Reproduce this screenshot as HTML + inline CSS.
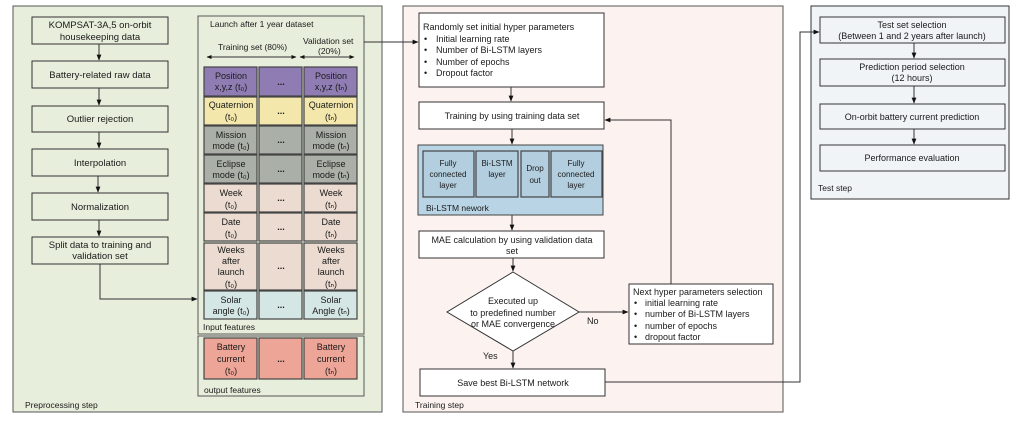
<!DOCTYPE html>
<html><head><meta charset="utf-8"><style>
html,body{margin:0;padding:0;background:#fff;}
svg{display:block;font-family:"Liberation Sans",Arial,sans-serif;}
text{fill:#1a1a1a;}
</style></head><body>
<svg width="1031" height="425" viewBox="0 0 1031 425" xmlns="http://www.w3.org/2000/svg">
<defs>
<marker id="a" viewBox="0 0 10 10" refX="9" refY="5" markerWidth="6" markerHeight="6" orient="auto"><path d="M0,1 L10,5 L0,9 z" fill="#111"/></marker>
<marker id="s" viewBox="0 0 10 10" refX="9" refY="5" markerWidth="5" markerHeight="5" orient="auto-start-reverse"><path d="M0,1 L10,5 L0,9 z" fill="#111"/></marker>
</defs>
<g stroke="#333" stroke-width="1">
<!-- panels -->
<rect x="13" y="6" width="369" height="406" fill="#e8eedc" stroke="#555"/>
<rect x="403" y="6" width="380" height="406" fill="#fcf3f1" stroke="#555"/>
<rect x="811" y="6" width="198" height="193" fill="#f1f4f7" stroke="#333"/>
<!-- left boxes -->
<g fill="#e8eedc">
<rect x="32" y="17" width="136" height="27"/>
<rect x="32" y="61" width="136" height="27"/>
<rect x="32" y="106" width="136" height="26"/>
<rect x="32" y="149" width="136" height="27"/>
<rect x="32" y="193" width="136" height="27"/>
<rect x="32" y="237" width="136" height="27"/>
</g>
<!-- dataset panel -->
<rect x="198" y="16" width="166" height="318" fill="#e8eedc" stroke="#555"/>
<rect x="198" y="336" width="166" height="60" fill="#e8eedc" stroke="#555"/>
<g stroke="#444" stroke-width="1.2">
<g fill="#8e7cb2"><rect x="204" y="67" width="53" height="29"/><rect x="259" y="67" width="43" height="29"/><rect x="304" y="67" width="53" height="29"/></g>
<g fill="#f3e7ab"><rect x="204" y="97" width="53" height="28"/><rect x="259" y="97" width="43" height="28"/><rect x="304" y="97" width="53" height="28"/></g>
<g fill="#a9ae a6" style="fill:#aab0a7"><rect x="204" y="126" width="53" height="28"/><rect x="259" y="126" width="43" height="28"/><rect x="304" y="126" width="53" height="28"/></g>
<g style="fill:#aab0a7"><rect x="204" y="155" width="53" height="28"/><rect x="259" y="155" width="43" height="28"/><rect x="304" y="155" width="53" height="28"/></g>
<g fill="#ebdbd0"><rect x="204" y="184" width="53" height="28"/><rect x="259" y="184" width="43" height="28"/><rect x="304" y="184" width="53" height="28"/>
<rect x="204" y="213" width="53" height="28"/><rect x="259" y="213" width="43" height="28"/><rect x="304" y="213" width="53" height="28"/>
<rect x="204" y="243" width="53" height="47"/><rect x="259" y="243" width="43" height="47"/><rect x="304" y="243" width="53" height="47"/></g>
<g fill="#d5e7e5"><rect x="204" y="291" width="53" height="28"/><rect x="259" y="291" width="43" height="28"/><rect x="304" y="291" width="53" height="28"/></g>
<g fill="#eda597"><rect x="204" y="338" width="53" height="41"/><rect x="259" y="338" width="43" height="41"/><rect x="304" y="338" width="53" height="41"/></g>
</g>
<line x1="207" y1="57" x2="296" y2="57" marker-start="url(#s)" marker-end="url(#s)"/>
<line x1="300" y1="57" x2="354" y2="57" marker-start="url(#s)" marker-end="url(#s)"/>
<!-- left arrows -->
<g marker-end="url(#a)" fill="none">
<line x1="99" y1="44" x2="99" y2="60"/>
<line x1="99" y1="88" x2="99" y2="105"/>
<line x1="99" y1="132" x2="99" y2="148"/>
<line x1="98" y1="176" x2="98" y2="192"/>
<line x1="99" y1="220" x2="99" y2="236"/>
<polyline points="100,264 100,299 197,299"/>
<line x1="364" y1="42" x2="418" y2="42"/>
</g>
<!-- training boxes -->
<g fill="#fff">
<rect x="419" y="13" width="185" height="74"/>
<rect x="419" y="102" width="185" height="27"/>
<rect x="419" y="231" width="185" height="27"/>
<rect x="420" y="369" width="185" height="27"/>
<rect x="629" y="284" width="144" height="60"/>
<polygon points="513,272 579,312 513,351 447,312"/>
</g>
<rect x="418" y="145" width="185" height="70" fill="#b9d4e4" stroke="#444"/>
<g fill="#b3cedf" stroke="#444" stroke-width="1.2">
<rect x="423" y="151" width="51" height="46"/>
<rect x="476" y="151" width="42" height="46"/>
<rect x="521" y="151" width="28" height="46"/>
<rect x="551" y="151" width="51" height="46"/>
</g>
<g marker-end="url(#a)" fill="none">
<line x1="511" y1="87" x2="511" y2="101"/>
<line x1="512" y1="129" x2="512" y2="144"/>
<line x1="512" y1="215" x2="512" y2="230"/>
<line x1="513" y1="258" x2="513" y2="271"/>
<line x1="513" y1="351" x2="513" y2="368"/>
<line x1="579" y1="312" x2="628" y2="312"/>
<polyline points="671,284 671,120 605,120"/>
<polyline points="605,382 800,382 800,32 819,32"/>
<line x1="914" y1="43" x2="914" y2="58"/>
<line x1="914" y1="86" x2="914" y2="103"/>
<line x1="914" y1="129" x2="914" y2="144"/>
</g>
<!-- test boxes -->
<g fill="#f1f4f7">
<rect x="820" y="17" width="185" height="26"/>
<rect x="820" y="59" width="185" height="27"/>
<rect x="820" y="104" width="185" height="25"/>
<rect x="820" y="145" width="185" height="26"/>
</g>
</g>
<g font-size="9.5" text-anchor="middle">
<text x="100" y="28">KOMPSAT-3A,5 on-orbit</text>
<text x="100" y="40">housekeeping data</text>
<text x="100" y="78">Battery-related raw data</text>
<text x="100" y="122">Outlier rejection</text>
<text x="100" y="166">Interpolation</text>
<text x="100" y="210">Normalization</text>
<text x="100" y="248">Split data to training and</text>
<text x="100" y="259">validation set</text>
</g>
<g font-size="8.5">
<text x="210" y="27">Launch after 1 year dataset</text>
<text x="218" y="50">Training set (80%)</text>
<text x="303" y="44">Validation set</text>
<text x="318" y="54">(20%)</text>
<text x="203" y="330">Input features</text>
<text x="204" y="393">output features</text>
<text x="25" y="408">Preprocessing step</text>
</g>
<g font-size="9" text-anchor="middle">
<text x="231" y="79">Position</text><text x="231" y="90">x,y,z (t₀)</text>
<text x="331" y="79">Position</text><text x="331" y="90">x,y,z (tₙ)</text>
<text x="231" y="108">Quaternion</text><text x="231" y="120">(t₀)</text>
<text x="331" y="108">Quaternion</text><text x="331" y="120">(tₙ)</text>
<text x="231" y="138">Mission</text><text x="231" y="149">mode (t₀)</text>
<text x="331" y="138">Mission</text><text x="331" y="149">mode (tₙ)</text>
<text x="231" y="167">Eclipse</text><text x="231" y="178">mode (t₀)</text>
<text x="331" y="167">Eclipse</text><text x="331" y="178">mode (tₙ)</text>
<text x="231" y="196">Week</text><text x="231" y="208">(t₀)</text>
<text x="331" y="196">Week</text><text x="331" y="208">(tₙ)</text>
<text x="231" y="225">Date</text><text x="231" y="237">(t₀)</text>
<text x="331" y="225">Date</text><text x="331" y="237">(tₙ)</text>
<text x="231" y="253">Weeks</text><text x="231" y="264">after</text><text x="231" y="275">launch</text><text x="231" y="287">(t₀)</text>
<text x="331" y="253">Weeks</text><text x="331" y="264">after</text><text x="331" y="275">launch</text><text x="331" y="287">(tₙ)</text>
<text x="231" y="303">Solar</text><text x="231" y="314">angle (t₀)</text>
<text x="331" y="303">Solar</text><text x="331" y="314">Angle (tₙ)</text>
<text x="231" y="350">Battery</text><text x="231" y="362">current</text><text x="231" y="374">(t₀)</text>
<text x="331" y="350">Battery</text><text x="331" y="362">current</text><text x="331" y="374">(tₙ)</text>
<g font-weight="bold"><text x="281" y="85">...</text><text x="281" y="114">...</text><text x="281" y="143">...</text><text x="281" y="172">...</text><text x="281" y="201">...</text><text x="281" y="230">...</text><text x="281" y="269">...</text><text x="281" y="308">...</text><text x="281" y="362">...</text></g>
</g>
<!-- training text -->
<g font-size="9">
<text x="423" y="30">Randomly set initial hyper parameters</text>
<text x="424" y="42">•</text><text x="436" y="42">Initial learning rate</text>
<text x="424" y="53">•</text><text x="436" y="53">Number of Bi-LSTM layers</text>
<text x="424" y="65">•</text><text x="436" y="65">Number of epochs</text>
<text x="424" y="76">•</text><text x="436" y="76">Dropout factor</text>
<text x="633" y="295">Next hyper parameters selection</text>
<text x="634" y="306">•</text><text x="645" y="306">initial learning rate</text>
<text x="634" y="317">•</text><text x="645" y="317">number of Bi-LSTM layers</text>
<text x="634" y="329">•</text><text x="645" y="329">number of epochs</text>
<text x="634" y="340">•</text><text x="645" y="340">dropout factor</text>
<text x="587" y="324">No</text>
<text x="483" y="359">Yes</text>
<text x="415" y="408" font-size="8.5">Training step</text>
<text x="818" y="191" font-size="8.5">Test step</text>
<text x="426" y="211" font-size="8.5">Bi-LSTM nework</text>
</g>
<g font-size="9" text-anchor="middle">
<text x="512" y="119">Training by using training data set</text>
<text x="512" y="243">MAE calculation by using validation data</text>
<text x="512" y="254">set</text>
<text x="513" y="304">Executed up</text>
<text x="513" y="316">to predefined number</text>
<text x="513" y="327">or MAE convergence</text>
<text x="513" y="386">Save best Bi-LSTM network</text>
<text x="912" y="28">Test set selection</text>
<text x="912" y="39">(Between 1 and 2 years after launch)</text>
<text x="912" y="70">Prediction period selection</text>
<text x="912" y="81">(12 hours)</text>
<text x="912" y="120">On-orbit battery current prediction</text>
<text x="912" y="161">Performance evaluation</text>
</g>
<g font-size="8" text-anchor="middle">
<text x="448" y="166">Fully</text><text x="448" y="177">connected</text><text x="448" y="188">layer</text>
<text x="497" y="166">Bi-LSTM</text><text x="497" y="177">layer</text>
<text x="535" y="171">Drop</text><text x="535" y="183">out</text>
<text x="576" y="166">Fully</text><text x="576" y="177">connected</text><text x="576" y="188">layer</text>
</g>
</svg>
</body></html>
